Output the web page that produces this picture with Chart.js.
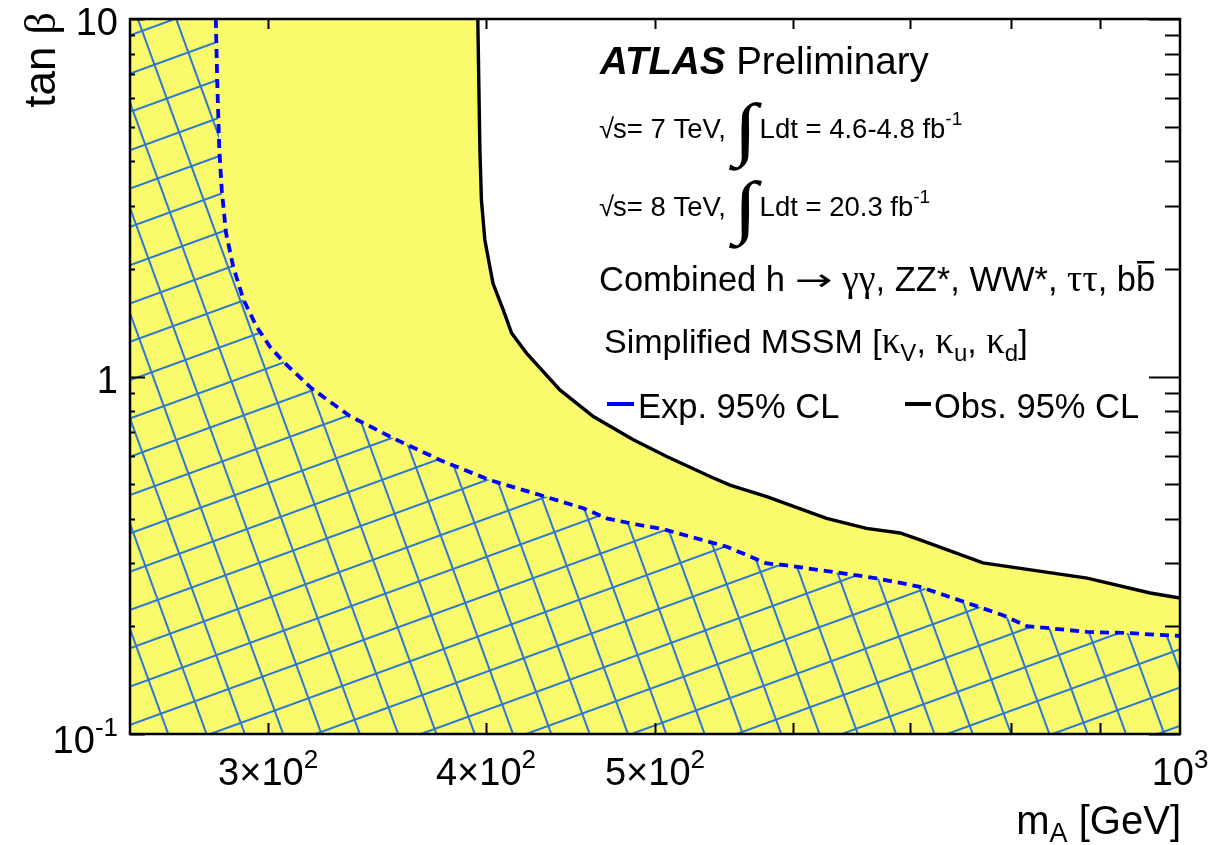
<!DOCTYPE html>
<html><head><meta charset="utf-8">
<script src="https://cdn.jsdelivr.net/npm/chart.js@4.4.1/dist/chart.umd.min.js"></script>
<style>html,body{margin:0;padding:0;background:#fff;overflow:hidden}canvas{display:block}</style>
</head><body>
<canvas id="c" width="1213" height="845"></canvas>
<script>
// ---- data ----
const obsMassA = [395.7, 396.8, 397.6, 399.4, 403.7, 409.2, 413.8, 422.1, 441.0, 460.9, 485.9, 507.8, 537.7, 552.0, 579.5, 627.1, 661.1, 691.0, 709.5, 770.9, 884.6, 961.4, 1000];
const obsTanB  = [10, 4.30, 3.116, 2.409, 1.823, 1.535, 1.321, 1.161, 0.917, 0.773, 0.665, 0.597, 0.525, 0.497, 0.461, 0.401, 0.376, 0.365, 0.349, 0.301, 0.273, 0.248, 0.240];
const expMassA = [280.0, 280.5, 281.3, 282.2, 283.8, 286.5, 290.4, 295.5, 300.7, 306.1, 317.7, 334.2, 353.9, 376.4, 402.1, 416.6, 429.6, 454.9, 469.2, 485.9, 505.6, 549.7, 579.5, 592.4, 632.6, 670.0, 709.5, 791.6, 817.0, 884.6, 932.4, 1000];
const expTanB  = [10, 6.75, 4.30, 3.32, 2.52, 2.03, 1.64, 1.378, 1.212, 1.100, 0.927, 0.775, 0.672, 0.584, 0.513, 0.487, 0.466, 0.428, 0.401, 0.387, 0.374, 0.334, 0.300, 0.297, 0.284, 0.2725, 0.258, 0.215, 0.2004, 0.193, 0.1916, 0.188];
const xRange = [250, 1000];
const yRange = [0.1, 10];
const xTickValues = [300, 400, 500, 1000];
const xTickLabels = ['3×10^2', '4×10^2', '5×10^2', '10^3'];
const xMinorTicks = [300, 400, 500, 600, 700, 800, 900];
const yTickValues = [0.1, 1, 10];
const yTickLabels = ['10^-1', '1', '10'];
const yMinorTicks = [0.2, 0.3, 0.4, 0.5, 0.6, 0.7, 0.8, 0.9, 2, 3, 4, 5, 6, 7, 8, 9];
const legendLabels = ['Exp. 95% CL', 'Obs. 95% CL'];

const toPts = (xs, ys) => xs.map((x, i) => ({x, y: ys[i]}));
const SANS = '"Liberation Sans", Arial, Helvetica, sans-serif';
const SERIF = '"Liberation Serif", "DejaVu Serif", serif';
const DJ = '"DejaVu Sans", sans-serif';
const YELLOW = '#f9fb6c';
const HATCH = '#2a78d2';

function makeHatch(ctx) {
  const s = 36, c = document.createElement('canvas');
  c.width = s; c.height = s;
  const g = c.getContext('2d');
  g.strokeStyle = HATCH; g.lineWidth = 2;
  g.beginPath();
  g.moveTo(0, s / 2); g.lineTo(s, s / 2);
  g.moveTo(s / 2, 0); g.lineTo(s / 2, s);
  g.stroke();
  const p = ctx.createPattern(c, 'repeat');
  p.setTransform(new DOMMatrix().translateSelf(-7, -10.6).rotateSelf(-20));
  return p;
}

function fontOf(r) { return (r.st || '') + ' ' + r.s + 'px ' + (r.f || SANS); }
function rich(ctx, x, y, runs, align) {
  let w = 0;
  for (const r of runs) { ctx.font = fontOf(r); w += ctx.measureText(r.t).width * (r.sx || 1) + (r.k || 0); }
  let cx = align === 'right' ? x - w : align === 'center' ? x - w / 2 : x;
  const pos = [];
  for (const r of runs) {
    ctx.font = fontOf(r);
    const ww = ctx.measureText(r.t).width * (r.sx || 1);
    pos.push([cx, ww]);
    if (r.sx) {
      ctx.save(); ctx.translate(cx, y + (r.dy || 0)); ctx.scale(r.sx, 1);
      ctx.fillText(r.t, 0, 0); ctx.restore();
    } else {
      ctx.fillText(r.t, cx, y + (r.dy || 0));
    }
    cx += ww + (r.k || 0);
  }
  return pos;
}
function labelRuns(lbl, size) {
  const [base, exp] = lbl.split('^');
  const runs = [{t: base, s: size}];
  if (exp) runs.push({t: exp, s: Math.round(size * 0.68), dy: -Math.round(size * 0.45)});
  return runs;
}

const decor = {
  id: 'decor',
  afterDraw(chart) {
    const ctx = chart.ctx, a = chart.chartArea, sx = chart.scales.x, sy = chart.scales.y;
    ctx.save();
    ctx.fillStyle = '#000'; ctx.strokeStyle = '#000';
    // ticks
    ctx.lineWidth = 2;
    ctx.beginPath();
    for (const v of yMinorTicks) {
      const p = Math.round(sy.getPixelForValue(v)) + 0.5;
      ctx.moveTo(a.left, p); ctx.lineTo(a.left + 5, p);
      ctx.moveTo(a.right, p); ctx.lineTo(a.right - 15, p);
    }
    for (const v of yTickValues) {
      const p = Math.round(sy.getPixelForValue(v)) + 0.5;
      ctx.moveTo(a.left, p); ctx.lineTo(a.left + 15, p);
      ctx.moveTo(a.right, p); ctx.lineTo(a.right - 31, p);
    }
    for (const v of xMinorTicks) {
      const p = Math.round(sx.getPixelForValue(v)) + 0.5;
      ctx.moveTo(p, a.bottom); ctx.lineTo(p, a.bottom - 11);
      ctx.moveTo(p, a.top); ctx.lineTo(p, a.top + 10);
    }
    ctx.stroke();
    // frame
    ctx.lineWidth = 2.5;
    ctx.strokeRect(a.left, a.top, a.right - a.left, a.bottom - a.top);
    // tick labels
    ctx.textBaseline = 'alphabetic';
    xTickValues.forEach((v, i) => {
      rich(ctx, sx.getPixelForValue(v), 785, labelRuns(xTickLabels[i], 38), 'center');
    });
    yTickValues.forEach((v, i) => {
      const p = sy.getPixelForValue(v);
      rich(ctx, 118, p + (i === 0 ? 19 : 16), labelRuns(yTickLabels[i], 38), 'right');
    });
    // axis titles
    rich(ctx, 1181, 834, [{t: 'm', s: 40}, {t: 'A', s: 27, dy: 8}, {t: ' [GeV]', s: 40}], 'right');
    ctx.save();
    ctx.translate(55, 12); ctx.rotate(-Math.PI / 2);
    rich(ctx, 0, 0, [{t: 'tan ', s: 44}, {t: 'β', s: 44, f: SERIF}], 'right');
    ctx.restore();
    // annotation texts
    rich(ctx, 600, 74, [{t: 'ATLAS', s: 38.5, st: 'italic bold'}, {t: ' Preliminary', s: 38.5}]);
    const lumiLine = (y, e, l) => {
      rich(ctx, 599, y, [{t: '√', s: 27.5, f: SANS, k: -1}, {t: 's= ' + e + ' TeV, ', s: 27.5},
        {t: '∫', s: 70, f: SERIF, dy: 14, sx: 1.25, k: 2}, {t: 'Ldt = ' + l + ' fb', s: 27.5}, {t: '-1', s: 19, dy: -13}]);
    };
    lumiLine(138, '7', '4.6-4.8');
    lumiLine(216, '8', '20.3');
    const pos = rich(ctx, 599, 291, [{t: 'Combined h ', s: 34.5}, {t: '→', s: 30, f: DJ, dy: -1, sx: 1.5}, {t: ' ', s: 34.5},
      {t: 'γγ', s: 38, f: SERIF}, {t: ', ZZ*, WW*, ', s: 34.5},
      {t: 'ττ', s: 38, f: SERIF}, {t: ', b', s: 34.5}, {t: 'b', s: 34.5}]);
    const lb = pos[pos.length - 1];
    ctx.fillRect(lb[0] + 1, 261, lb[1] - 2, 2.5);
    rich(ctx, 604, 353, [{t: 'Simplified MSSM [', s: 34}, {t: 'κ', s: 37, f: SERIF}, {t: 'V', s: 24, dy: 8},
      {t: ', ', s: 34}, {t: 'κ', s: 37, f: SERIF}, {t: 'u', s: 24, dy: 8}, {t: ', ', s: 34},
      {t: 'κ', s: 37, f: SERIF}, {t: 'd', s: 24, dy: 8}, {t: ']', s: 34}]);
    // legend
    ctx.lineWidth = 4;
    ctx.strokeStyle = '#0000ff';
    ctx.beginPath(); ctx.moveTo(607, 404); ctx.lineTo(634, 404); ctx.stroke();
    ctx.strokeStyle = '#000';
    ctx.beginPath(); ctx.moveTo(905, 404); ctx.lineTo(931, 404); ctx.stroke();
    rich(ctx, 638, 418, [{t: legendLabels[0], s: 34.5}]);
    rich(ctx, 934, 418, [{t: legendLabels[1], s: 34.5}]);
    ctx.restore();
  }
};

const canvas = document.getElementById('c');
const ctx0 = canvas.getContext('2d');
const hatch = makeHatch(ctx0);

new Chart(canvas, {
  type: 'line',
  data: {
    datasets: [
      {label: legendLabels[1], data: toPts(obsMassA, obsTanB), borderColor: '#000', borderWidth: 3.4,
        pointRadius: 0, fill: false, tension: 0, order: 0},
      {label: legendLabels[0], data: toPts(expMassA, expTanB), borderColor: '#0000ff', borderWidth: 3.8,
        borderDash: [9, 6], pointRadius: 0, fill: false, tension: 0, order: 1},
      {label: 'exp-region', data: [{x: xRange[0], y: yRange[1]}, ...toPts(expMassA, expTanB)], borderWidth: 0,
        borderColor: 'rgba(0,0,0,0)', backgroundColor: hatch, fill: 'start', pointRadius: 0, tension: 0, order: 2},
      {label: 'obs-region', data: [{x: xRange[0], y: yRange[1]}, ...toPts(obsMassA, obsTanB)], borderWidth: 0,
        borderColor: 'rgba(0,0,0,0)', backgroundColor: YELLOW, fill: 'start', pointRadius: 0, tension: 0, order: 3}
    ]
  },
  options: {
    responsive: false, animation: false, devicePixelRatio: 1,
    layout: {padding: {left: 130, top: 19, right: 33, bottom: 111}},
    scales: {
      x: {type: 'logarithmic', min: xRange[0], max: xRange[1], display: false},
      y: {type: 'logarithmic', min: yRange[0], max: yRange[1], display: false}
    },
    plugins: {legend: {display: false}, tooltip: {enabled: false}}
  },
  plugins: [decor]
});
</script>
</body></html>
